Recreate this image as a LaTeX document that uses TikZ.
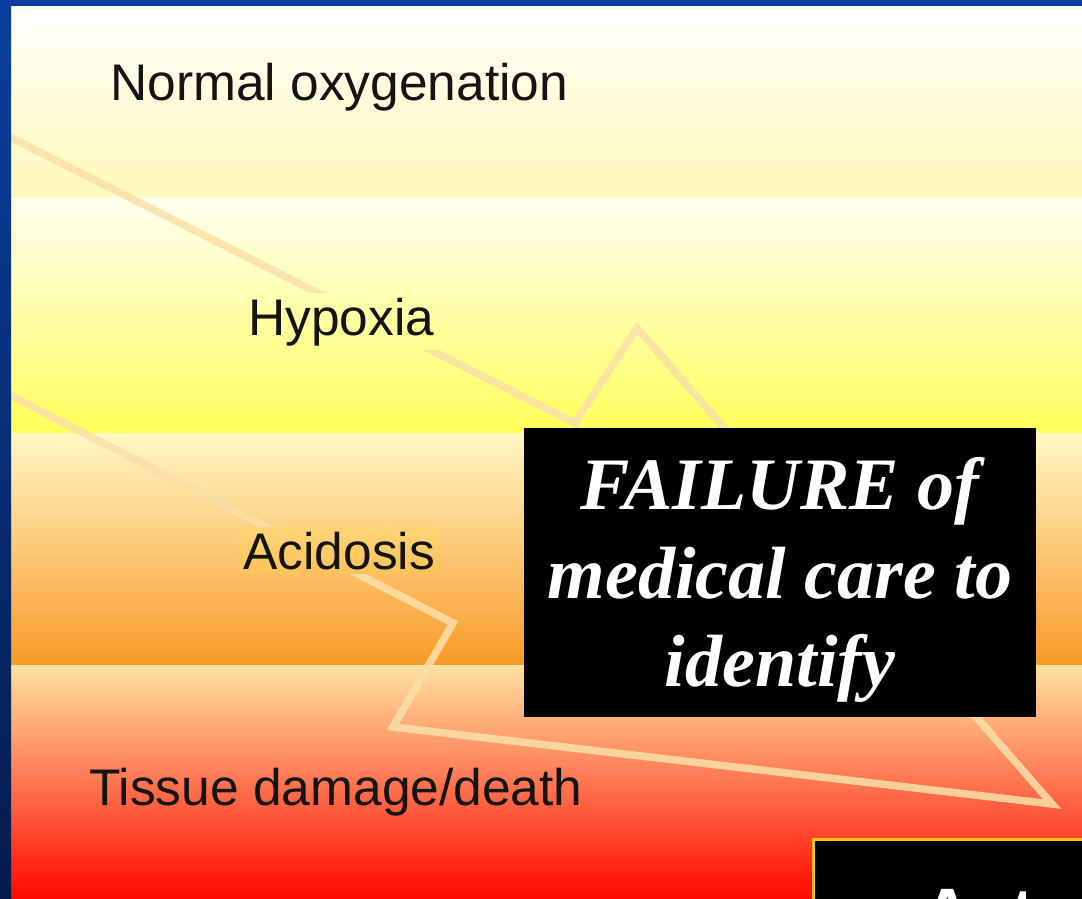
\documentclass[tikz,border=0pt]{standalone}
\usepackage{fontspec}
\setmainfont{Liberation Sans}
\newfontfamily\failfont{Liberation Serif}
\usetikzlibrary{positioning}

\definecolor{frametop}{HTML}{0B3F9F}
\definecolor{framebot}{HTML}{041C4C}
\definecolor{normtop}{HTML}{FFFFFF}
\definecolor{normbot}{HTML}{FFF9B8}
\definecolor{hyptop}{HTML}{FFFFF0}
\definecolor{hypbot}{HTML}{FFFF5A}
\definecolor{acidtop}{HTML}{FFF8C4}
\definecolor{acidmid}{HTML}{FFCC66}
\definecolor{acidbot}{HTML}{F89A28}
\definecolor{tistop}{HTML}{FFE2A0}
\definecolor{tismid}{HTML}{FF8A48}
\definecolor{tisbot}{HTML}{FF0800}
\definecolor{zigcream}{HTML}{FAE0A8}
\definecolor{boxgold}{HTML}{FFC000}

\begin{document}
\begin{tikzpicture}[
    x=1pt, y=-1pt,
    stage/.style={anchor=base west, inner sep=4pt, text=black!92, font=\fontsize{51.5}{60}\selectfont},
    failbox/.style={rectangle, fill=black, anchor=north west, minimum width=512pt, minimum height=289pt, inner sep=0pt},
    failcaption/.style={text=white, align=flush center, text width=500pt, inner sep=0pt, font=\failfont\bfseries\itshape\fontsize{74}{88.5}\selectfont},
    zigzag/.style={draw=zigcream, line width=7.5pt, opacity=0.85, line join=miter}
]
    \useasboundingbox (0,0) rectangle (1082,899);
    \clip (0,0) rectangle (1082,899);

    % Bands
    \shade[top color=normtop, bottom color=normbot] (0,0) rectangle (1082,197);
    \shade[top color=hyptop, bottom color=hypbot] (0,197) rectangle (1082,433);
    \shade[top color=acidtop, middle color=acidmid, bottom color=acidbot] (0,433) rectangle (1082,665);
    \shade[top color=tistop, middle color=tismid, bottom color=tisbot] (0,665) rectangle (1082,899);

    % Zigzag arrow outline
    \draw[zigzag] (0,132) -- (575,423) -- (637,328) -- (1052,804) -- (393,727) -- (453,623) -- (0,390);

    % Frame
    \fill[frametop] (0,0) rectangle (1082,6);
    \shade[top color=frametop, bottom color=framebot] (0,0) rectangle (11,899);

    % Nodes
    \node (normal) [stage] at (106,100) {Normal oxygenation};
    \node (hypoxia) [stage, top color=hypbot!41!hyptop, bottom color=hypbot!65!hyptop] at (244,335) {Hypoxia};
    \node (acidosis) [stage, top color=acidmid!82!acidtop, bottom color=acidbot!21!acidmid] at (239,569) {Acidosis};
    \node (tissue) [stage] at (85,805) {Tissue damage/death};

    \node (failure) [failbox] at (524,428) {};
    \node (failtext) [failcaption] at (780,580) {FAILURE of\\ medical care to\\ identify};

    \node (actbox) [draw=boxgold, line width=2.5pt, fill=black, anchor=north west, minimum width=300pt, minimum height=120pt] at (812,838) {};
    \node (acttext) [anchor=base west, inner sep=0pt, text=white, font=\bfseries\fontsize{70}{80}\selectfont] at (922,937) {Act};
\end{tikzpicture}
\end{document}
